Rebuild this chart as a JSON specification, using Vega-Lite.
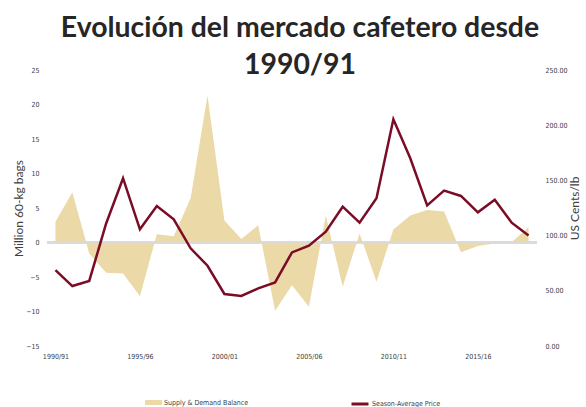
{
  "$schema": "https://vega.github.io/schema/vega-lite/v6.json",
  "width": 490,
  "height": 276,
  "autosize": {"type": "none"},
  "padding": {"left": 47, "top": 70, "right": 49, "bottom": 61},
  "background": "white",
  "title": {
    "text": ["Evolución del mercado cafetero desde", "1990/91"],
    "font": "Lato",
    "fontSize": 28.4,
    "fontWeight": "bold",
    "color": "#262626",
    "lineHeight": 37,
    "anchor": "middle",
    "baseline": "alphabetic",
    "offset": -36,
    "dx": 8
  },
  "config": {
    "view": {"stroke": null},
    "axis": {
      "labelFont": "DejaVu Sans Condensed",
      "labelFontSize": 7,
      "labelColor": "#404040",
      "labelOverlap": false,
      "titleFont": "Lato",
      "titleFontSize": 12,
      "titleFontWeight": "normal",
      "titleColor": "#404040",
      "domain": false,
      "ticks": false,
      "grid": false
    },
    "legend": {
      "labelFont": "DejaVu Sans Condensed",
      "labelFontSize": 7,
      "labelColor": "#404040"
    }
  },
  "data": {
    "values": [
      {"season": "1990/91", "balance": 3.0, "price": 68.8},
      {"season": "1991/92", "balance": 7.3, "price": 54.3},
      {"season": "1992/93", "balance": -1.6, "price": 58.9},
      {"season": "1993/94", "balance": -4.4, "price": 111.0},
      {"season": "1994/95", "balance": -4.5, "price": 152.0},
      {"season": "1995/96", "balance": -7.8, "price": 105.7},
      {"season": "1996/97", "balance": 1.2, "price": 126.8},
      {"season": "1997/98", "balance": 0.9, "price": 114.7},
      {"season": "1998/99", "balance": 6.4, "price": 88.5},
      {"season": "1999/00", "balance": 21.3, "price": 72.7},
      {"season": "2000/01", "balance": 3.2, "price": 47.1},
      {"season": "2001/02", "balance": 0.5, "price": 45.3},
      {"season": "2002/03", "balance": 2.5, "price": 52.2},
      {"season": "2003/04", "balance": -9.9, "price": 57.6},
      {"season": "2004/05", "balance": -6.2, "price": 84.8},
      {"season": "2005/06", "balance": -9.3, "price": 90.9},
      {"season": "2006/07", "balance": 3.9, "price": 103.6},
      {"season": "2007/08", "balance": -6.4, "price": 126.2},
      {"season": "2008/09", "balance": 1.3, "price": 111.7},
      {"season": "2009/10", "balance": -5.7, "price": 133.8},
      {"season": "2010/11", "balance": 1.9, "price": 205.3},
      {"season": "2011/12", "balance": 3.9, "price": 170.0},
      {"season": "2012/13", "balance": 4.7, "price": 127.4},
      {"season": "2013/14", "balance": 4.5, "price": 140.7},
      {"season": "2014/15", "balance": -1.4, "price": 135.9},
      {"season": "2015/16", "balance": -0.5, "price": 121.1},
      {"season": "2016/17", "balance": -0.15, "price": 132.5},
      {"season": "2017/18", "balance": 0.05, "price": 111.7},
      {"season": "2018/19", "balance": 2.2, "price": 100.2}
    ]
  },
  "encoding": {
    "x": {
      "field": "season",
      "type": "ordinal",
      "sort": null,
      "scale": {"type": "point", "padding": 0.5},
      "axis": {
        "title": null,
        "labelAngle": 0,
        "labelPadding": 6,
        "values": ["1990/91", "1995/96", "2000/01", "2005/06", "2010/11", "2015/16"]
      }
    }
  },
  "layer": [
    {
      "layer": [
        {
          "mark": {"type": "area", "opacity": 1},
          "encoding": {
            "y": {
              "field": "balance",
              "type": "quantitative",
              "scale": {"domain": [-15, 25], "nice": false, "zero": false},
              "axis": {
                "title": "Million 60-kg bags",
                "tickCount": 8,
                "labelOverlap": false,
                "labelPadding": 8,
                "titlePadding": 0
              }
            },
            "y2": {"datum": 0},
            "fill": {
              "datum": "Supply & Demand Balance",
              "scale": {"range": ["#EBD9A8"]},
              "legend": {
                "title": null,
                "orient": "none",
                "legendX": 98,
                "legendY": 324,
                "symbolType": "M-1,-0.3H1V0.3H-1Z",
                "symbolSize": 289,
                "symbolStrokeWidth": 0,
                "labelOffset": 2
              }
            }
          }
        },
        {
          "mark": {"type": "rule", "color": "#D9D9D9", "strokeWidth": 1.5},
          "encoding": {
            "x": null,
            "y": {"datum": 0, "type": "quantitative"}
          }
        }
      ]
    },
    {
      "mark": {"type": "line", "strokeWidth": 2.5, "strokeJoin": "miter"},
      "encoding": {
        "y": {
          "field": "price",
          "type": "quantitative",
          "scale": {"domain": [0, 250], "nice": false, "zero": false},
          "axis": {
            "orient": "right",
            "title": "US Cents/lb",
            "titleAngle": 270,
            "format": ".2f",
            "values": [0, 50, 100, 150, 200, 250],
            "labelOverlap": false,
            "labelPadding": 8,
            "titlePadding": 14
          }
        },
        "stroke": {
          "datum": "Season-Average Price",
          "scale": {"range": ["#7B0C25"]},
          "legend": {
            "title": null,
            "orient": "none",
            "legendX": 303,
            "legendY": 324,
            "symbolType": "stroke",
            "symbolSize": 289,
            "symbolStrokeWidth": 3,
            "labelOffset": 2
          }
        }
      }
    }
  ],
  "resolve": {"scale": {"y": "independent", "fill": "independent", "stroke": "independent"}}
}
